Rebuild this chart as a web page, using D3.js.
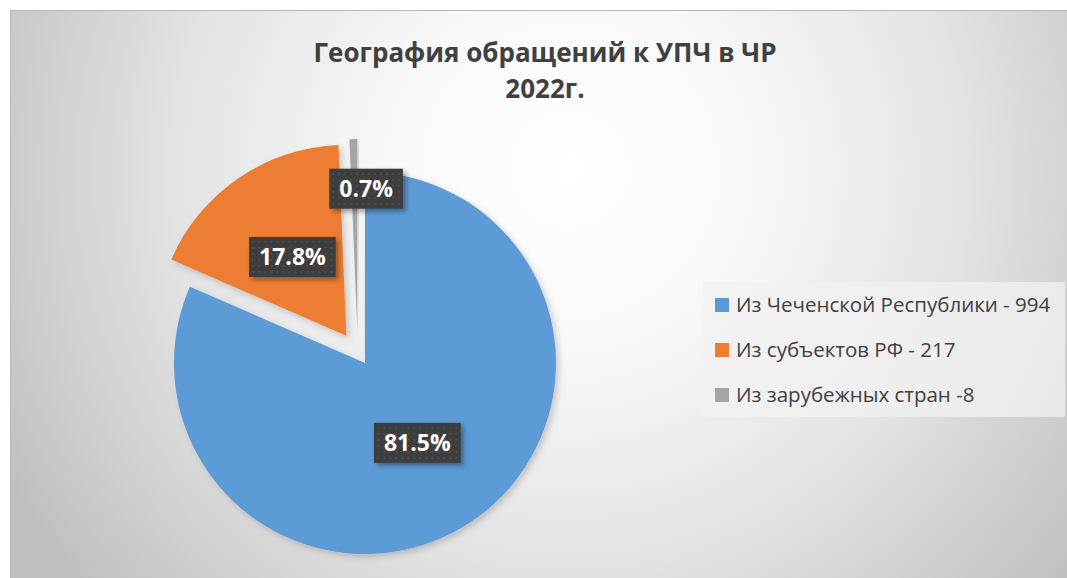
<!DOCTYPE html>
<html>
<head>
<meta charset="utf-8">
<script src="https://cdn.jsdelivr.net/npm/d3@7"></script>
<style>
  body { margin: 0; background: #fff; }
  svg { display: block; font-family: "Open Sans", sans-serif; }
</style>
</head>
<body>
<div id="chart"></div>
<script>
// Data
const categories = ["Из Чеченской Республики - 994", "Из субъектов РФ - 217", "Из зарубежных стран -8"];
const values = [994, 217, 8];
const exploded = [false, true, true];
const titleLines = ["География обращений к УПЧ в ЧР", "2022г."];

const colors = ["#5b9bd5", "#ed7d31", "#a5a5a5"];

const width = 1067, height = 578;
const cx = 365, cy = 363, radius = 191;
const explode = 33;

const svg = d3.select("#chart").append("svg")
    .attr("width", width)
    .attr("height", height);

const defs = svg.append("defs");

// background gradient
const grad = defs.append("radialGradient")
    .attr("id", "bg")
    .attr("gradientUnits", "userSpaceOnUse")
    .attr("cx", 570).attr("cy", 170).attr("r", 640);
[[0, "#ffffff"], [0.28, "#f8f8f8"], [0.62, "#e3e3e3"], [1, "#c0c0c0"]].forEach(s =>
  grad.append("stop").attr("offset", s[0]).attr("stop-color", s[1]));

// slice shadow
const sh = defs.append("filter").attr("id", "shadow")
    .attr("x", "-20%").attr("y", "-20%").attr("width", "140%").attr("height", "140%");
sh.append("feDropShadow").attr("dx", 3).attr("dy", 3).attr("stdDeviation", 3)
    .attr("flood-color", "#000").attr("flood-opacity", 0.18);

const lsh = defs.append("filter").attr("id", "lshadow")
    .attr("x", "-20%").attr("y", "-30%").attr("width", "150%").attr("height", "170%");
lsh.append("feDropShadow").attr("dx", 3).attr("dy", 3).attr("stdDeviation", 2.5)
    .attr("flood-color", "#000").attr("flood-opacity", 0.35);

// dotted pattern for label boxes
const pat = defs.append("pattern").attr("id", "dots")
    .attr("patternUnits", "userSpaceOnUse").attr("width", 6).attr("height", 6);
pat.append("rect").attr("width", 6).attr("height", 6).attr("fill", "#3d3d3d");
pat.append("rect").attr("x", 2).attr("y", 2).attr("width", 2).attr("height", 2).attr("fill", "#4d4d4d");

// chart area
svg.append("rect")
    .attr("x", 10.5).attr("y", 10.5)
    .attr("width", width).attr("height", height)
    .attr("fill", "url(#bg)")
    .attr("stroke", "#b8b8b8");

// title
svg.append("text")
    .attr("x", 545).attr("y", 62)
    .attr("text-anchor", "middle")
    .attr("fill", "#404040")
    .attr("font-size", 26).attr("font-weight", "bold")
    .selectAll("tspan")
    .data(titleLines)
    .join("tspan")
      .attr("x", 545)
      .attr("dy", (d, i) => i ? 36 : 0)
      .text(d => d);

// pie
const pie = d3.pie().sort(null).value(d => d);
const arcs = pie(values);
const arc = d3.arc().innerRadius(0).outerRadius(radius);
const total = d3.sum(values);
const fmt = d3.format(".1%");

function offset(d, i) {
  if (!exploded[i]) return [0, 0];
  const a = (d.startAngle + d.endAngle) / 2;
  // the thin slice sits a little further left in the original
  const extra = (d.endAngle - d.startAngle) < 0.1 ? -7 : 0;
  return [Math.sin(a) * explode + extra, -Math.cos(a) * explode];
}

const g = svg.append("g").attr("transform", `translate(${cx},${cy})`);

g.selectAll("path")
  .data(arcs)
  .join("path")
    .attr("d", arc)
    .attr("fill", (d, i) => colors[i])
    .attr("filter", "url(#shadow)")
    .attr("transform", (d, i) => `translate(${offset(d, i)})`);

// data labels
const labels = g.selectAll("g.lbl")
  .data(arcs)
  .join("g")
    .attr("class", "lbl")
    .attr("transform", (d, i) => {
      const a = (d.startAngle + d.endAngle) / 2;
      const thin = (d.endAngle - d.startAngle) < 0.1;
      const o = thin ? [0, offset(d, i)[1]] : offset(d, i);
      const r = thin ? radius * 0.74 : radius * 0.5;
      return `translate(${o[0] + Math.sin(a) * r + (thin ? 4 : 0)},${o[1] - Math.cos(a) * r})`;
    });

labels.append("text")
    .attr("text-anchor", "middle")
    .attr("dy", "0.36em")
    .attr("fill", "#fff")
    .attr("font-size", 23).attr("font-weight", "bold")
    .text(d => fmt(d.value / total));

labels.each(function() {
  const t = d3.select(this).select("text");
  const w = t.node().getComputedTextLength() + 20;
  d3.select(this).insert("rect", "text")
    .attr("x", -w / 2).attr("y", -20)
    .attr("width", w).attr("height", 40)
    .attr("fill", "url(#dots)")
    .attr("filter", "url(#lshadow)");
});

// legend
const legend = svg.append("g");
legend.append("rect")
    .attr("x", 703).attr("y", 282)
    .attr("width", 362).attr("height", 135)
    .attr("fill", "#f2f2f2").attr("fill-opacity", 0.75);

const item = legend.selectAll("g.item")
  .data(categories)
  .join("g")
    .attr("class", "item")
    .attr("transform", (d, i) => `translate(715,${305 + i * 45})`);

item.append("rect")
    .attr("y", -7).attr("width", 14).attr("height", 14)
    .attr("fill", (d, i) => colors[i]);

item.append("text")
    .attr("x", 21).attr("dy", "0.36em")
    .attr("fill", "#404040")
    .attr("font-size", 20.5)
    .text(d => d);
</script>
</body>
</html>
